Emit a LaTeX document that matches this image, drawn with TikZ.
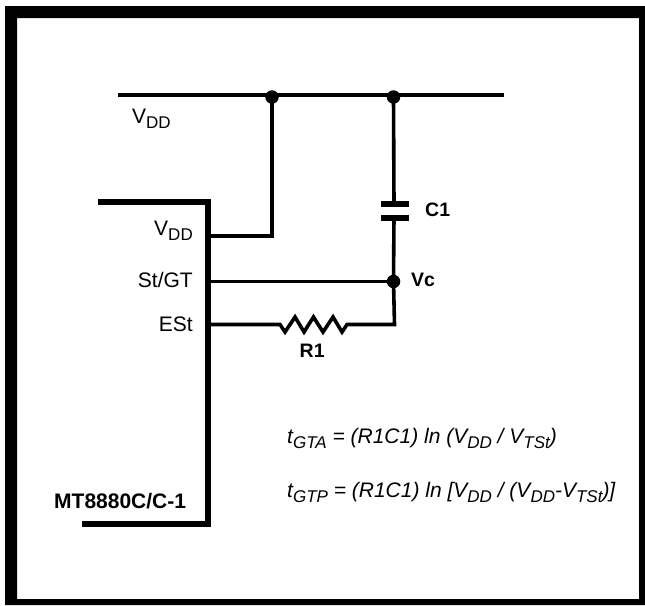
\documentclass[tikz,border=0pt]{standalone}
\usepackage{fontspec}
\setmainfont{Liberation Sans}
\newcommand{\sbs}[1]{\raisebox{-5.5pt}{\fontsize{17}{17}\selectfont #1}}
\tikzset{
  wire/.style={line width=3.6pt,line cap=butt,line join=miter},
  icbody/.style={line width=6.5pt,line join=miter},
  plate/.style={line width=6pt},
  junction/.style={circle,fill=black,inner sep=0pt,minimum size=13.5pt},
  lab/.style={inner sep=0pt,font=\fontsize{21}{21}\selectfont},
  boldlab/.style={inner sep=0pt,font=\fontsize{19.5}{20}\selectfont\bfseries},
  formula/.style={inner sep=0pt,anchor=base west,font=\fontsize{21}{21}\selectfont\itshape}
}
\begin{document}
\begin{tikzpicture}[x=1pt,y=-1pt]
\useasboundingbox (0,0) rectangle (645,605);
\fill[white] (0,0) rectangle (645,605);
\fill[black,even odd rule] (5,6) rectangle (645,605) (17,18) rectangle (639,599);
% coordinates
\coordinate (railL) at (118,95);
\coordinate (railR) at (504,95);
\node[junction] (j1) at (272,97) {};
\node[junction] (j2) at (393.5,97) {};
\node[junction] (vc) at (393.5,281.5) {};
\coordinate (icTL) at (98,202);
\coordinate (icTR) at (208,202);
\coordinate (icBR) at (208,524);
\coordinate (icBL) at (82,524);
\coordinate (pVdd) at (208,236);
\coordinate (pSt) at (208,281.5);
\coordinate (pEst) at (208,324.5);
\coordinate (capT) at (394,204);
\coordinate (capB) at (394,217.5);
\coordinate (rL) at (280,324.5);
\coordinate (rR) at (347,324.5);
\coordinate (estCorner) at (394.5,324.5);
% wires
\draw[wire] (railL) -- (railR);
\draw[wire] (j1.center) -- (272,236) -- (pVdd);
\draw[wire] (j2.center) -- (capT);
\draw[wire] (capB) -- (vc.center);
\draw[wire] (pSt) -- (vc.center);
\draw[wire] (pEst) -- (rL) -- (285,332) -- (295,317) -- (304,332) -- (313.5,317) -- (323,332) -- (333,317) -- (342,332) -- (rR) -- (estCorner) -- (vc.center);
% capacitor
\draw[plate] (381,204) -- (409,204);
\draw[plate] (381,217.5) -- (409,217.5);
% chip
\draw[icbody] (icTL) -- (icTR) -- (icBR) -- (icBL);
% labels
\node[lab,anchor=base west] (t1) at (132,123) {V\sbs{DD}};
\node[lab,anchor=base east] (t2) at (193,235) {V\sbs{DD}};
\node[lab,anchor=base east] (t3) at (193,287) {St/GT};
\node[lab,anchor=base east] (t4) at (193,331.5) {ESt};
\node[boldlab,anchor=base west] (t5) at (425,216) {C1};
\node[boldlab,anchor=base west] (t6) at (411,286) {Vc};
\node[boldlab,anchor=base west] (t7) at (299.5,357) {R1};
\node[boldlab,anchor=base west,font=\fontsize{21}{21}\selectfont\bfseries] (t8) at (54,508) {MT8880C/C-1};
\node[formula] (f1) at (287,443) {t\sbs{GTA} = (R1C1) ln (V\sbs{DD} / V\sbs{TSt})};
\node[formula] (f2) at (287,497) {t\sbs{GTP} = (R1C1) ln [V\sbs{DD} / (V\sbs{DD}-V\sbs{TSt})]};
\end{tikzpicture}
\end{document}
